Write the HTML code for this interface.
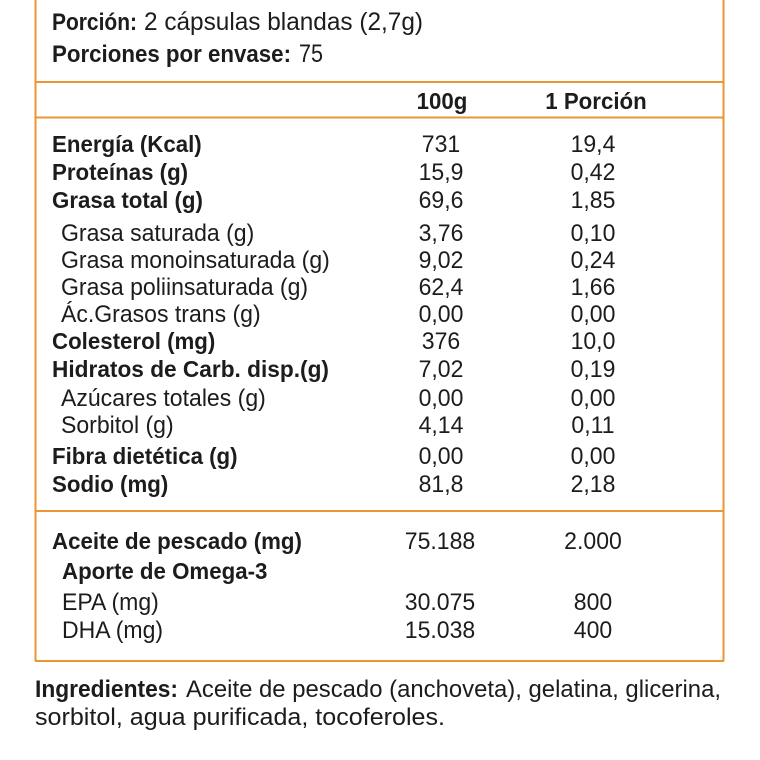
<!DOCTYPE html>
<html><head><meta charset="utf-8"><style>
html,body{margin:0;padding:0;background:#fff;}
svg{display:block;}
text{font-family:"Liberation Sans",sans-serif;fill:#1c1c1c;}
.b{font-weight:bold;font-size:23.2px;}
.r{font-size:24px;}
.c{text-anchor:middle;}
</style></head><body>
<svg width="760" height="760" viewBox="0 0 760 760" xmlns="http://www.w3.org/2000/svg">
<g stroke="#EA9633" stroke-width="2" fill="none">
<line x1="35.5" y1="0" x2="35.5" y2="661"/>
<line x1="723.5" y1="0" x2="723.5" y2="661"/>
<line x1="35" y1="82" x2="724" y2="82"/>
<line x1="35" y1="117.5" x2="724" y2="117.5"/>
<line x1="35" y1="511" x2="724" y2="511"/>
<line x1="35" y1="661" x2="724" y2="661"/>
</g>
<text x="52" y="30" style="font-weight:bold;font-size:24px" textLength="85" lengthAdjust="spacingAndGlyphs">Porción:</text>
<text x="144" y="30" style="font-size:25px" textLength="279" lengthAdjust="spacingAndGlyphs">2 cápsulas blandas (2,7g)</text>
<text x="52" y="62" style="font-weight:bold;font-size:24px" textLength="239" lengthAdjust="spacingAndGlyphs">Porciones por envase:</text>
<text x="299" y="62" style="font-size:25px" textLength="24" lengthAdjust="spacingAndGlyphs">75</text>

<g transform="scale(0.96,1)">
<text class="b c" x="460.42" y="109">100g</text>
<text class="b c" x="620.83" y="109">1 Porción</text>

<text class="b" x="54.17" y="152">Energía (Kcal)</text>
<text class="r c" x="459.38" y="152">731</text><text class="r c" x="617.71" y="152">19,4</text>
<text class="b" x="54.17" y="180">Proteínas (g)</text>
<text class="r c" x="459.38" y="180">15,9</text><text class="r c" x="617.71" y="180">0,42</text>
<text class="b" x="54.17" y="208">Grasa total (g)</text>
<text class="r c" x="459.38" y="208">69,6</text><text class="r c" x="617.71" y="208">1,85</text>
<text class="r" x="63.54" y="241">Grasa saturada (g)</text>
<text class="r c" x="459.38" y="241">3,76</text><text class="r c" x="617.71" y="241">0,10</text>
<text class="r" x="63.54" y="268">Grasa monoinsaturada (g)</text>
<text class="r c" x="459.38" y="268">9,02</text><text class="r c" x="617.71" y="268">0,24</text>
<text class="r" x="63.54" y="295">Grasa poliinsaturada (g)</text>
<text class="r c" x="459.38" y="295">62,4</text><text class="r c" x="617.71" y="295">1,66</text>
<text class="r" x="63.54" y="322">Ác.Grasos trans (g)</text>
<text class="r c" x="459.38" y="322">0,00</text><text class="r c" x="617.71" y="322">0,00</text>
<text class="b" x="54.17" y="349">Colesterol (mg)</text>
<text class="r c" x="459.38" y="349">376</text><text class="r c" x="617.71" y="349">10,0</text>
<text class="b" x="54.17" y="377" textLength="288.5" lengthAdjust="spacingAndGlyphs">Hidratos de Carb. disp.(g)</text>
<text class="r c" x="459.38" y="377">7,02</text><text class="r c" x="617.71" y="377">0,19</text>
<text class="r" x="63.54" y="406">Azúcares totales (g)</text>
<text class="r c" x="459.38" y="406">0,00</text><text class="r c" x="617.71" y="406">0,00</text>
<text class="r" x="63.54" y="433">Sorbitol (g)</text>
<text class="r c" x="459.38" y="433">4,14</text><text class="r c" x="617.71" y="433">0,11</text>
<text class="b" x="54.17" y="464">Fibra dietética (g)</text>
<text class="r c" x="459.38" y="464">0,00</text><text class="r c" x="617.71" y="464">0,00</text>
<text class="b" x="54.17" y="492">Sodio (mg)</text>
<text class="r c" x="459.38" y="492">81,8</text><text class="r c" x="617.71" y="492">2,18</text>

<text class="b" x="54.17" y="549">Aceite de pescado (mg)</text>
<text class="r c" x="458.33" y="549">75.188</text><text class="r c" x="617.71" y="549">2.000</text>
<text class="b" x="64.58" y="579">Aporte de Omega-3</text>
<text class="r" x="64.58" y="610">EPA (mg)</text>
<text class="r c" x="458.33" y="610">30.075</text><text class="r c" x="617.71" y="610">800</text>
<text class="r" x="64.58" y="638">DHA (mg)</text>
<text class="r c" x="458.33" y="638">15.038</text><text class="r c" x="617.71" y="638">400</text>
</g>

<text x="35" y="697" style="font-weight:bold;font-size:24px" textLength="143" lengthAdjust="spacingAndGlyphs">Ingredientes:</text>
<text x="186" y="697" style="font-size:24.5px" textLength="535" lengthAdjust="spacingAndGlyphs">Aceite de pescado (anchoveta), gelatina, glicerina,</text>
<text x="35" y="725" style="font-size:24.5px" textLength="410" lengthAdjust="spacingAndGlyphs">sorbitol, agua purificada, tocoferoles.</text>
</svg>
</body></html>
